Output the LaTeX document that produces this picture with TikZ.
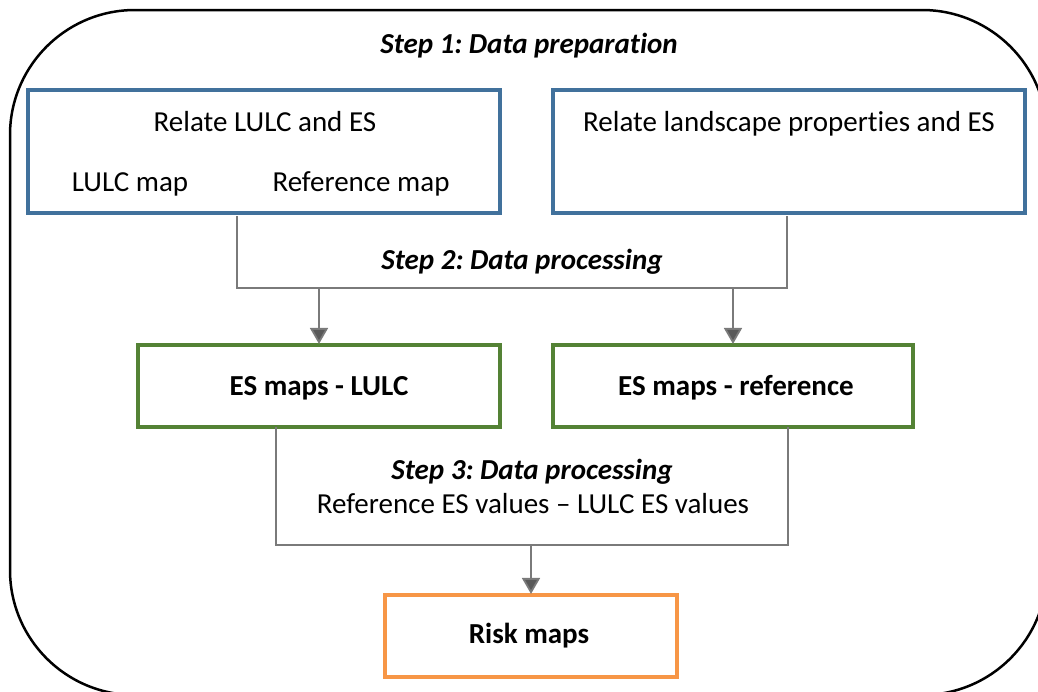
\documentclass[tikz,border=0pt]{standalone}
\usepackage{fontspec}
\setmainfont{Carlito}[Ligatures={NoCommon,NoRare}, RawFeature={-liga;-dlig;-clig}]
\frenchspacing
\usetikzlibrary{arrows.meta}
\definecolor{bxblue}{HTML}{41719C}
\definecolor{bxgreen}{HTML}{548235}
\definecolor{bxorange}{HTML}{F79646}
\definecolor{conngray}{HTML}{7A7A7A}
\definecolor{tipgray}{HTML}{595959}
\newcommand{\nolig}{\kern0pt }
\tikzset{
  box/.style={draw, line width=3.3pt, fill=none, inner sep=0pt},
  bluebox/.style={box, draw=bxblue},
  greenbox/.style={box, draw=bxgreen},
  orangebox/.style={box, draw=bxorange},
  txt/.style={anchor=base, inner sep=0pt, font=\fontsize{29}{34}\selectfont},
  btxt/.style={txt, font=\fontsize{29}{34}\selectfont\bfseries},
  bitxt/.style={txt, font=\fontsize{29}{34}\selectfont\bfseries\itshape},
  conn/.style={draw=conngray, line width=1.8pt},
  arr/.style={conn, -{Triangle[width=18pt,length=16pt,fill=tipgray]}, shorten >=1pt},
}
\begin{document}
\begin{tikzpicture}[x=1pt,y=-1pt]
\useasboundingbox (0,0) rectangle (1038,691);
\begin{scope}
\clip (0,0) rectangle (1038,691);
\draw[line width=2.5pt, rounded corners=125pt] (10,10) rectangle (1047,695);
\end{scope}

% boxes
\node[bluebox, minimum width=472pt, minimum height=123pt] (b1) at (264,151.5) {};
\node[bluebox, minimum width=472pt, minimum height=123pt] (b2) at (789,151.5) {};
\node[greenbox, minimum width=362pt, minimum height=82pt] (g1) at (319,386) {};
\node[greenbox, minimum width=360pt, minimum height=82pt] (g2) at (733,386) {};
\node[orangebox, minimum width=292pt, minimum height=82pt] (r) at (531,636) {};

% texts
\node[bitxt] (s1) at (529,53) {Step 1: Data preparat\nolig ion};
\node[txt] (t1) at (265,131) {Relate LULC and ES};
\node[txt] (t2) at (130,191) {LULC map};
\node[txt] (t3) at (361,191) {Reference map};
\node[txt] (t4) at (789,131) {Relate landscape propert\nolig ies and ES};
\node[bitxt] (s2) at (522,269) {Step 2: Data processing};
\node[btxt] (t5) at (319,395) {ES maps - LULC};
\node[btxt] (t6) at (736,395) {ES maps - reference};
\node[bitxt] (s3) at (532,479) {Step 3: Data processing};
\node[txt] (t7) at (533,513) {Reference ES values – LULC ES values};
\node[btxt] (t8) at (529,643) {Risk maps};

% step 2 connector
\coordinate (j1) at (237,288);
\coordinate (j2) at (787,288);
\draw[conn] ([yshift=-1.6pt]b1.south -| j1) -- (j1) -- (j2) -- ([yshift=-1.6pt]b2.south -| j2);
\draw[arr] (g1.north |- j1) -- ([yshift=-1.6pt]g1.north);
\draw[arr] (g2.north |- j1) -- ([yshift=-1.6pt]g2.north);

% step 3 connector
\coordinate (k1) at (276,545);
\coordinate (k2) at (788,545);
\draw[conn] ([yshift=1.6pt]g1.south -| k1) -- (k1) -- (k2) -- ([yshift=1.6pt]g2.south -| k2);
\draw[arr] (r.north |- k1) -- ([yshift=-1.6pt]r.north);
\end{tikzpicture}
\end{document}
